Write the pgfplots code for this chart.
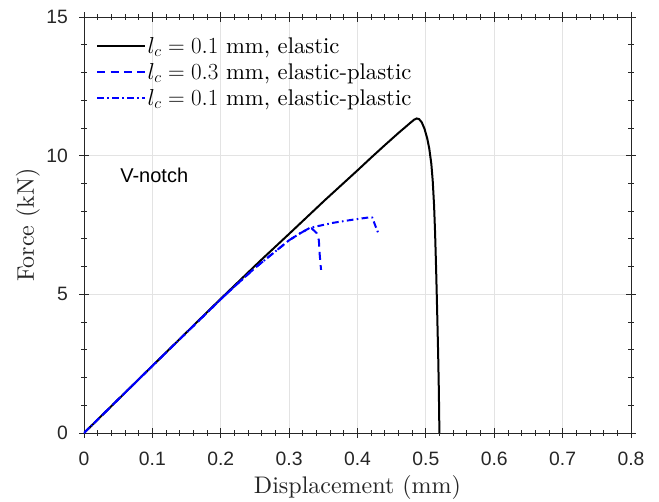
\documentclass[border=0pt]{standalone}
\usepackage{fontspec}
\setmainfont{lmroman10-regular.otf}[BoldFont=lmroman10-bold.otf, ItalicFont=lmroman10-italic.otf]
\usepackage{pgfplots}
\pgfplotsset{compat=1.18}
\newfontfamily\helv{Liberation Sans}
\definecolor{axgray}{HTML}{262626}
\definecolor{gridgray}{HTML}{E3E3E3}
\begin{document}
\begin{tikzpicture}
\useasboundingbox (-63pt,-51.75pt) rectangle (431.25pt,324.75pt);
\begin{axis}[
  scale only axis,
  width=410.25pt, height=312pt,
  at={(0pt,0pt)}, anchor=south west,
  xmin=0, xmax=0.8, ymin=0, ymax=15,
  xtick={0,0.1,...,0.8}, ytick={0,5,10,15},
  minor x tick num=4, minor y tick num=4,
  tick align=center,
  major tick length=7pt, minor tick length=4pt,
  every tick/.style={axgray, line width=0.6pt},
  axis line style={axgray, line width=0.6pt},
  grid=major,
  major grid style={gridgray, line width=0.6pt},
  /pgf/number format/assume math mode=true,
  /pgf/number format/fixed,
  ticklabel style={font=\helv\fontsize{14.5}{17}\selectfont, text=axgray},
  xticklabel style={yshift=-7pt},
  yticklabel style={xshift=-5pt},
  xlabel={Displacement (mm)},
  ylabel={Force (kN)},
  label style={font=\fontsize{18}{21}\selectfont, text=axgray},
  xlabel style={at={(axis description cs:0.5,-0.131)}, anchor=center},
  ylabel style={at={(axis description cs:-0.1024,0.5)}, anchor=center},
  legend cell align=left,
  legend style={at={(axis description cs:0.022,0.965)}, anchor=north west,
    draw=none, fill=none, font=\fontsize{17}{20}\selectfont,
    row sep=2pt, inner xsep=0pt,
    nodes={inner xsep=1pt}},
  legend image code/.code={\draw[#1] (0pt,0pt) -- (36pt,0pt);},
]
\addplot[black, line width=1.5pt] coordinates {
(0,0) (0.1,2.42) (0.2,4.84) (0.2574,6.2) (0.3,7.18) (0.3525,8.40)
(0.4,9.47) (0.42,9.93) (0.44,10.38) (0.46,10.82) (0.47,11.03)
(0.478,11.2) (0.483,11.3) (0.4866,11.34) (0.49,11.32) (0.494,11.2)
(0.498,10.97) (0.502,10.62) (0.505,10.25) (0.508,9.7) (0.510,9.1)
(0.512,8.2) (0.5135,7.2) (0.515,5.9) (0.5165,4.4) (0.518,2.8)
(0.519,1.5) (0.5198,0)
};
\addlegendentry{$l_c = 0.1$ mm, elastic}
\addplot[blue, line width=1.5pt, dash pattern=on 6pt off 4pt] coordinates {
(0,0) (0.1,2.42) (0.2,4.82) (0.22,5.28) (0.25,5.95) (0.28,6.55)
(0.3,6.95) (0.316,7.2) (0.325,7.32) (0.333,7.38) (0.3405,7.2)
(0.3435,6.95) (0.3445,6.5) (0.3467,5.88)
};
\addlegendentry{$l_c = 0.3$ mm, elastic-plastic}
\addplot[blue, line width=1.5pt, dash pattern=on 5pt off 2.5pt on 1.2pt off 2.5pt] coordinates {
(0,0) (0.1,2.42) (0.2,4.82) (0.22,5.28) (0.25,5.95) (0.28,6.55)
(0.3,6.95) (0.316,7.2) (0.3306,7.4) (0.3647,7.58) (0.39,7.68)
(0.4184,7.78) (0.4215,7.77) (0.4257,7.5) (0.4305,7.2)
};
\addlegendentry{$l_c = 0.1$ mm, elastic-plastic}
\node[anchor=west, font=\helv\fontsize{15}{18}\selectfont, inner sep=0pt] at (axis cs:0.0527,9.3) {V-notch};
\end{axis}
\end{tikzpicture}
\end{document}
